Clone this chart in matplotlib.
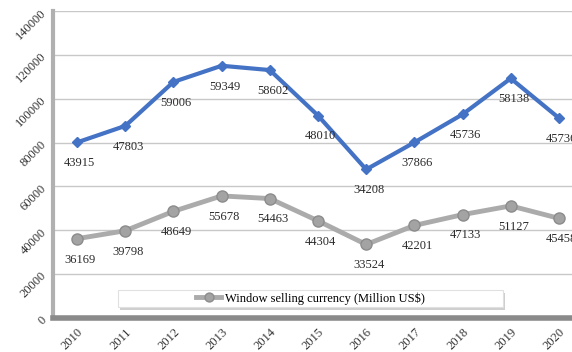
import matplotlib
matplotlib.use('Agg')

import matplotlib.pyplot as plt
from matplotlib.patches import Rectangle

years = ['2010', '2011', '2012', '2013', '2014', '2015', '2016', '2017', '2018', '2019', '2020']
selling = [36169, 39798, 48649, 55678, 54463, 44304, 33524, 42201, 47133, 51127, 45458]
other = [43915, 47803, 59006, 59349, 58602, 48010, 34208, 37866, 45736, 58138, 45736]

# stacked line chart: upper line sits on top of the gray one
stacked = [a + b for a, b in zip(selling, other)]

plt.rcParams['font.family'] = ['Liberation Serif', 'DejaVu Serif']

W, H = 572, 352
fig = plt.figure(figsize=(W / 100, H / 100), dpi=100)
left, right, top, bottom = 53, 583, 11, 318
ax = fig.add_axes([left / W, 1 - bottom / H, (right - left) / W, (bottom - top) / H])

x = list(range(len(years)))
ax.set_xlim(-0.5, len(years) - 0.5)
ax.set_ylim(0, 140000)

ax.plot(x, stacked, color='#4472C4', lw=3, marker='D', ms=5,
        mfc='#4472C4', mec='#4472C4', zorder=4)
ax.plot(x, selling, color='#ABABAB', lw=3.5, marker='o', ms=8,
        mfc='#A3A3A3', mec='#8C8C8C', mew=1, zorder=3,
        label='Window selling currency (Million US$)')

for xi, yv, lab in zip(x, stacked, other):
    ax.annotate(str(lab), (xi, yv), xytext=(2, -15), textcoords='offset points',
                ha='center', va='center', fontsize=9, color='#2B2B2B', zorder=5)
for xi, yv in zip(x, selling):
    ax.annotate(str(yv), (xi, yv), xytext=(2, -15), textcoords='offset points',
                ha='center', va='center', fontsize=9, color='#2B2B2B', zorder=5)

ax.set_yticks(range(0, 140001, 20000))
ax.yaxis.grid(True, color='#C8C8C8', lw=1)
ax.set_axisbelow(True)
ax.tick_params(length=0)
ax.set_yticklabels([str(v) for v in range(0, 140001, 20000)], rotation=45,
                   ha='right', va='center', rotation_mode='anchor', fontsize=9,
                   color='#333333')
ax.set_xticks(x)
ax.set_xticklabels(years, rotation=45, ha='right', va='top',
                   rotation_mode='anchor', fontsize=9, color='#333333')
ax.tick_params(axis='x', pad=6)
ax.tick_params(axis='y', pad=6)

for s in ['top', 'right']:
    ax.spines[s].set_visible(False)
ax.spines['left'].set_color('#B0B0B0')
ax.spines['left'].set_linewidth(3)
ax.spines['bottom'].set_color('#8A8A8A')
ax.spines['bottom'].set_linewidth(4)

# legend box with a soft shadow
bx0, by0, bw, bh = 0.123, 0.036, 0.726, 0.055
ax.add_patch(Rectangle((bx0 + 0.004, by0 - 0.01), bw, bh, transform=ax.transAxes,
                       facecolor='#CFCFCF', edgecolor='none', zorder=5))
ax.add_patch(Rectangle((bx0, by0), bw, bh, transform=ax.transAxes,
                       facecolor='white', edgecolor='#E0E0E0', lw=0.8, zorder=6))
leg = ax.legend(loc='center', bbox_to_anchor=(bx0 + bw / 2, by0 + bh / 2),
                frameon=False, fontsize=9, handlelength=2.0, handletextpad=0.3,
                borderpad=0, markerscale=0.8)
leg.set_zorder(7)

fig.savefig('out.png', dpi=100)
